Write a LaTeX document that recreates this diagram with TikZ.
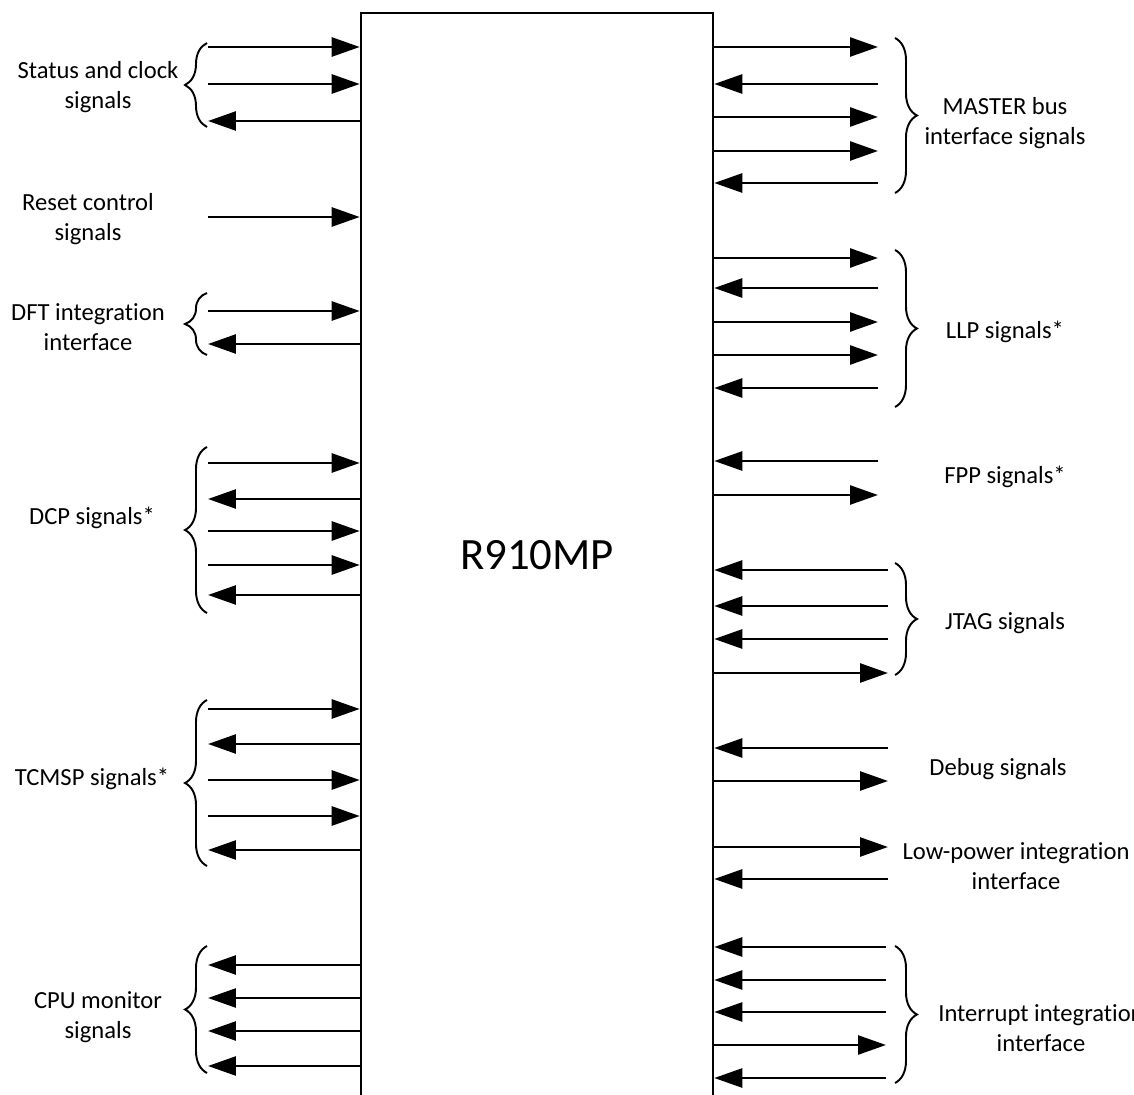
\documentclass[tikz,border=0pt]{standalone}
\usepackage{fontspec}
\setmainfont{Carlito}[Ligatures=NoCommon]
\usetikzlibrary{arrows.meta,decorations.pathreplacing,positioning,calc}

\begin{document}
\begin{tikzpicture}[
      x=0.02cm, y=-0.02cm,
      line width=1.5pt,
      chip/.style = {draw, rectangle, inner sep=0pt, minimum width=7.04cm,
                     minimum height=21.74cm},
      lbl/.style = {align=center, font=\fontsize{14}{17}\selectfont},
      sigin/.style = {-{Triangle[length=0.56cm,width=0.38cm]}},
      sigout/.style = {{Triangle[length=0.56cm,width=0.38cm]}-},
      grp/.style = {decorate, decoration={brace, amplitude=0.44cm}, line width=1.1pt}
      ]
      \useasboundingbox (0,0) rectangle (1134,1095);
      \clip (0,0) rectangle (1134,1095);
      \node[chip] (core) at (537,556.5) {};
      \node[font=\fontsize{25.5}{30}\selectfont] (name) at (537,555) {R910MP};

      % signals on the west side
      \foreach \y/\s in {47/sigin, 84/sigin, 121/sigout, 217/sigin,
                         311/sigin, 344/sigout,
                         463/sigin, 499/sigout, 531/sigin, 565/sigin, 595/sigout,
                         709/sigin, 744/sigout, 780/sigin, 816/sigin, 850/sigout,
                         965/sigout, 998/sigout, 1031/sigout, 1066/sigout} {
        \coordinate (w\y) at (208,\y);
        \draw[\s] (w\y) -- (core.west |- w\y);
      }

      % signals on the east side
      \foreach \y/\x/\s in {47/878/sigout, 84/878/sigin, 117/878/sigout, 151/878/sigout, 183/878/sigin,
                            258/878/sigout, 288/878/sigin, 322/878/sigout, 355/878/sigout, 388/878/sigin,
                            461/878/sigin, 495/878/sigout,
                            570/888/sigin, 606/888/sigin, 639/888/sigin, 673/888/sigout,
                            748/888/sigin, 781/888/sigout,
                            847/888/sigout, 879/888/sigin,
                            947/886/sigin, 980/886/sigin, 1012/886/sigin, 1045/886/sigout, 1078/886/sigin} {
        \coordinate (e\y) at (\x,\y);
        \draw[\s] (e\y) -- (core.east |- e\y);
      }

      % braces
      \draw[grp] (207,127) -- (207,43);
      \draw[grp] (207,355) -- (207,293);
      \draw[grp] (207,613) -- (207,447);
      \draw[grp] (207,866) -- (207,700);
      \draw[grp] (207,1073) -- (207,946);
      \draw[grp] (895,38) -- (895,193);
      \draw[grp] (895,250) -- (895,407);
      \draw[grp] (895,563) -- (895,675);
      \draw[grp] (895,946) -- (895,1083);

      \node[lbl] (stat) at (98,87) {Status and clock\\signals};
      \node[lbl] (rst) at (88,219) {Reset control\\signals};
      \node[lbl] (dft) at (88,327) {DFT integration\\interface};
      \node[lbl] (dcp) at (92,518) {DCP signals*};
      \node[lbl] (tcm) at (92,779) {TCMSP signals*};
      \node[lbl] (mon) at (98,1017) {CPU monitor\\signals};

      \node[lbl] (mst) at (1005,123) {MASTER bus\\interface signals};
      \node[lbl] (llp) at (1005,332) {LLP signals*};
      \node[lbl] (fpp) at (1005,477) {FPP signals*};
      \node[lbl] (jtag) at (1005,623) {JTAG signals};
      \node[lbl] (dbg) at (998,769) {Debug signals};
      \node[lbl] (lpw) at (1016,866) {Low-power integration\\interface};
      \node[lbl] (irq) at (1041,1028) {Interrupt integration\\interface};
    \end{tikzpicture}
\end{document}
